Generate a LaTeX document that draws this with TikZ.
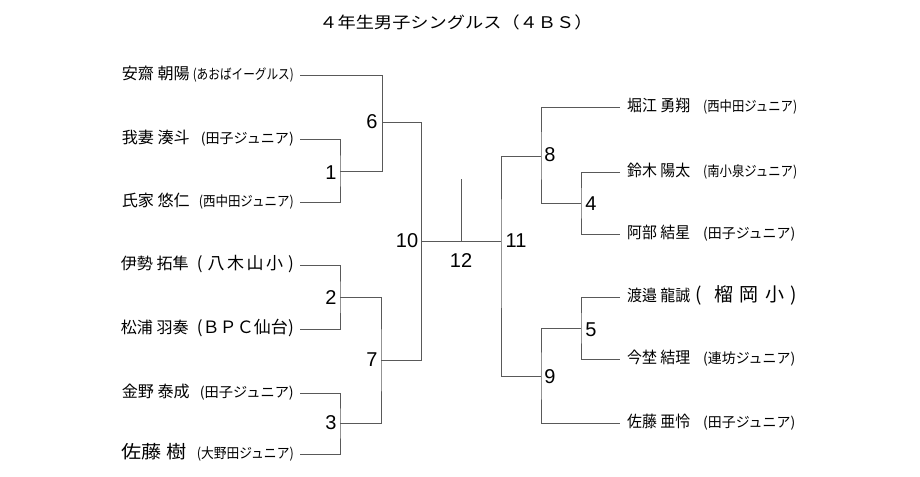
\documentclass[tikz,border=0pt]{standalone}
\usepackage{fontspec}
\usepackage{graphicx}
\setmainfont{Noto Sans CJK JP}
\newfontfamily\numfont{Liberation Sans}
\newcommand{\tsm}{\fontsize{14bp}{16bp}\selectfont}
\newcommand{\tbg}{\fontsize{16bp}{18bp}\selectfont}
% \plx{total width}{name width}{name}{team width}{team}
\newcommand{\plx}[5]{\hbox to #1{\resizebox{#2}{\height}{#3}\hfill\resizebox{#4}{\height}{#5}}}
\tikzset{
  wire/.style={draw=black!65, line width=0.9bp},
  pl/.style={inner ysep=0pt, text height=12bp, text depth=3bp,
    font=\fontsize{16bp}{18bp}\selectfont},
  lpl/.style={pl, anchor=east, inner xsep=6bp},
  rpl/.style={pl, anchor=west, inner xsep=7bp},
  lbl/.style={inner sep=0pt, font=\numfont\fontsize{20bp}{22bp}\selectfont},
}
\begin{document}
\begin{tikzpicture}[x=1bp, y=-1bp]
\useasboundingbox (0,0) rectangle (920,477);

\node (title) at (456,22) {\resizebox{273bp}{\height}{\tbg ４年生男子シングルス（４ＢＳ）}};

% left players
\node[lpl] (p1) at (300,75)  {\plx{172bp}{68bp}{安齋 朝陽}{101bp}{\tsm (あおばイーグルス)}};
\node[lpl] (p2) at (300,139) {\plx{172bp}{68bp}{我妻 湊斗}{93bp}{\tsm (田子ジュニア)}};
\node[lpl] (p3) at (300,202) {\plx{172bp}{68bp}{氏家 悠仁}{95bp}{\tsm (西中田ジュニア)}};
\node[lpl] (p4) at (300,265) {\plx{173bp}{68bp}{伊勢 拓隼}{97bp}{\fontsize{17bp}{19bp}\selectfont\hbox to 97bp{(\hfil\hfil 八\hfil 木\hfil 山\hfil 小\hfil\hfil )}}};
\node[lpl] (p5) at (300,329) {\plx{173bp}{68bp}{松浦 羽奏}{97bp}{\fontsize{17bp}{19bp}\selectfont (ＢＰＣ仙台)}};
\node[lpl] (p6) at (300,393) {\plx{172bp}{68bp}{金野 泰成}{94bp}{\tsm (田子ジュニア)}};
\node[lpl] (p7) at (300,454) {\plx{172bp}{65bp}{\fontsize{18bp}{20bp}\selectfont 佐藤 樹}{97bp}{\tsm (大野田ジュニア)}};

% right players
\node[rpl] (q1) at (620,107) {\plx{170bp}{63bp}{堀江 勇翔}{94bp}{\tsm (西中田ジュニア)}};
\node[rpl] (q2) at (620,172) {\plx{170bp}{63bp}{鈴木 陽太}{94bp}{\tsm (南小泉ジュニア)}};
\node[rpl] (q3) at (620,234) {\plx{168bp}{63bp}{阿部 結星}{92bp}{\tsm (田子ジュニア)}};
\node[rpl] (q4) at (620,297) {\plx{170bp}{63bp}{渡邉 龍誠}{102bp}{\fontsize{19bp}{21bp}\selectfont\hbox to 102bp{(\hfil\hfil 榴\hfil 岡\hfil 小\hfil )}}};
\node[rpl] (q5) at (620,359) {\plx{168bp}{63bp}{今埜 結理}{92bp}{\tsm (連坊ジュニア)}};
\node[rpl] (q6) at (620,423) {\plx{168bp}{63bp}{佐藤 亜怜}{92bp}{\tsm (田子ジュニア)}};

% junctions
\coordinate (j1) at (340,171);
\coordinate (j2) at (340,297);
\coordinate (j3) at (340,423);
\coordinate (j6) at (382,122);
\coordinate (j7) at (381,360);
\coordinate (j10) at (421,241);
\coordinate (j12) at (461,241);
\coordinate (j12t) at (461,179);
\coordinate (j11) at (501,241);
\coordinate (j8) at (541,156);
\coordinate (j9) at (541,376);
\coordinate (j4) at (581,203);
\coordinate (j5) at (581,328);

% left bracket
\draw[wire] (p2.east) -| (j1) |- (p3.east);
\draw[wire] (p1.east) -| (j6);
\draw[wire] (j1) -| (j6);
\draw[wire] (p4.east) -| (j2) |- (p5.east);
\draw[wire] (p6.east) -| (j3) |- (p7.east);
\draw[wire] (j2) -| (j7) |- (j3);
\draw[wire] (j6) -| (j10);
\draw[wire] (j7) -| (j10);
% final
\draw[wire] (j10) -- (j11);
\draw[wire] (j12) -- (j12t);
% right bracket
\draw[wire] (q1.west) -| (j8) |- (j4);
\draw[wire] (q2.west) -| (j4) |- (q3.west);
\draw[wire] (q4.west) -| (j5) |- (q5.west);
\draw[wire] (j5) -| (j9) |- (q6.west);
\draw[wire] (j8) -| (j11) |- (j9);

% match numbers
\node[lbl] (n1) at (331,173) {1};
\node[lbl] (n2) at (331,298) {2};
\node[lbl] (n3) at (331,423) {3};
\node[lbl] (n6) at (372,122) {6};
\node[lbl] (n7) at (372,360) {7};
\node[lbl] (n10) at (407,241) {10};
\node[lbl] (n12) at (461,261) {12};
\node[lbl] (n11) at (516,241) {11};
\node[lbl] (n8) at (550,155) {8};
\node[lbl] (n4) at (591,204) {4};
\node[lbl] (n5) at (591,330) {5};
\node[lbl] (n9) at (550,377) {9};
\end{tikzpicture}
\end{document}
